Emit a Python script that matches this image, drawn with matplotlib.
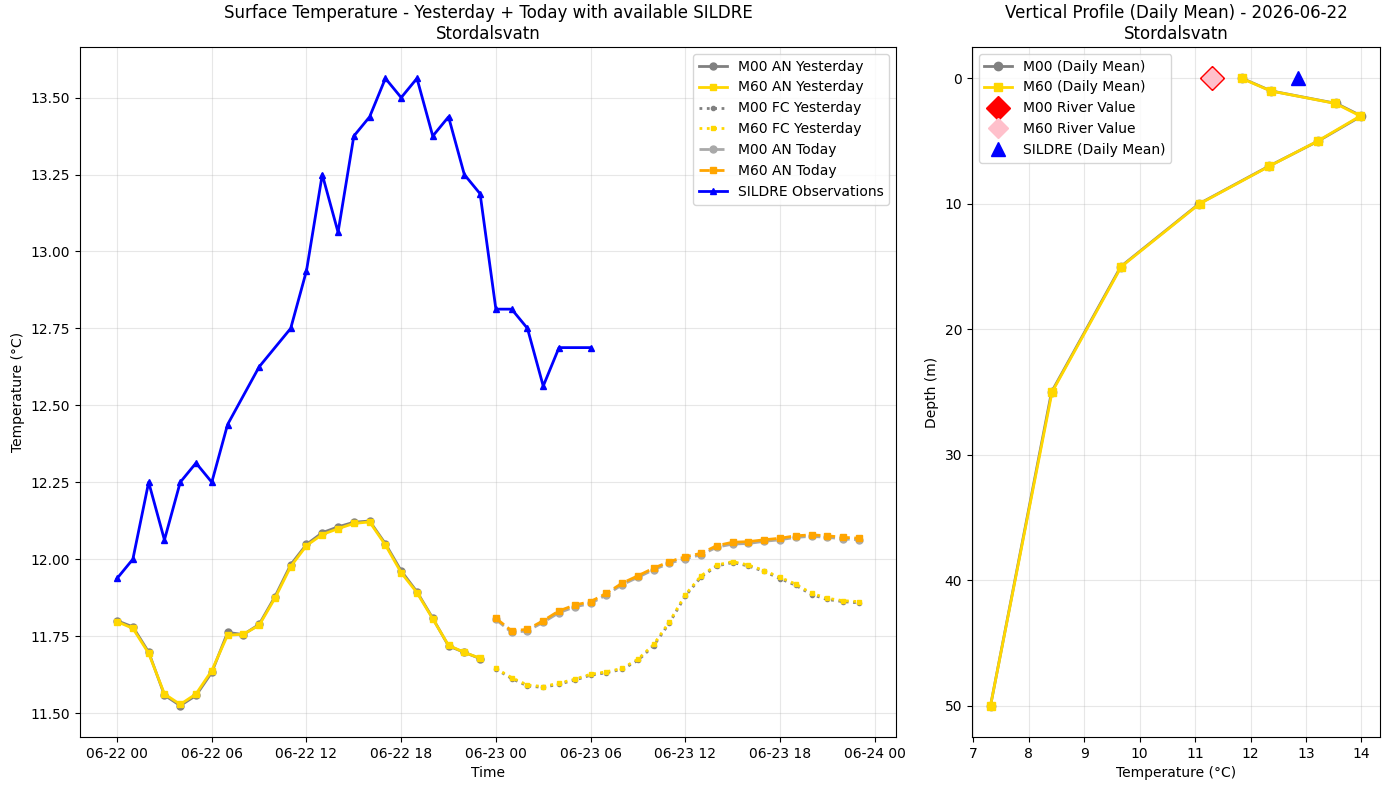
import matplotlib
matplotlib.use("Agg")
import matplotlib.pyplot as plt
import matplotlib.dates as mdates
import pandas as pd
import numpy as np

lake = "Stordalsvatn"
day = "2026-06-22"

# hourly surface temperatures
m00_an_yest = [11.800, 11.780, 11.698, 11.558, 11.524, 11.557, 11.632, 11.762, 11.755, 11.788, 11.878, 11.982,
               12.048, 12.086, 12.105, 12.120, 12.124, 12.050, 11.962, 11.894, 11.808, 11.718, 11.697, 11.677]
m60_an_yest = [11.797, 11.775, 11.694, 11.562, 11.528, 11.562, 11.638, 11.753, 11.756, 11.785, 11.873, 11.976,
               12.044, 12.080, 12.099, 12.116, 12.121, 12.046, 11.956, 11.891, 11.806, 11.720, 11.697, 11.678]
m00_fc_yest = [11.643, 11.612, 11.588, 11.583, 11.594, 11.607, 11.623, 11.631, 11.642, 11.671, 11.719, 11.793,
               11.880, 11.942, 11.978, 11.989, 11.978, 11.960, 11.937, 11.915, 11.885, 11.869, 11.862, 11.858]
m60_fc_yest = [11.645, 11.615, 11.591, 11.586, 11.597, 11.610, 11.626, 11.634, 11.645, 11.675, 11.723, 11.797,
               11.884, 11.946, 11.981, 11.992, 11.981, 11.963, 11.941, 11.919, 11.889, 11.873, 11.865, 11.862]
m00_an_today = [11.804, 11.762, 11.767, 11.795, 11.826, 11.845, 11.856, 11.884, 11.917, 11.941, 11.966, 11.987,
                12.002, 12.014, 12.039, 12.049, 12.051, 12.058, 12.063, 12.071, 12.074, 12.071, 12.066, 12.063]
m60_an_today = [11.808, 11.767, 11.772, 11.800, 11.832, 11.851, 11.862, 11.889, 11.922, 11.946, 11.971, 11.992,
                12.008, 12.019, 12.044, 12.055, 12.057, 12.063, 12.068, 12.076, 12.079, 12.076, 12.071, 12.068]

# SILDRE observations (some hours missing)
sildre_times = ["2026-06-22 00:00", "2026-06-22 01:00", "2026-06-22 02:00", "2026-06-22 03:00",
                "2026-06-22 04:00", "2026-06-22 05:00", "2026-06-22 06:00", "2026-06-22 07:00",
                "2026-06-22 09:00", "2026-06-22 11:00", "2026-06-22 12:00", "2026-06-22 13:00",
                "2026-06-22 14:00", "2026-06-22 15:00", "2026-06-22 16:00", "2026-06-22 17:00",
                "2026-06-22 18:00", "2026-06-22 19:00", "2026-06-22 20:00", "2026-06-22 21:00",
                "2026-06-22 22:00", "2026-06-22 23:00", "2026-06-23 00:00", "2026-06-23 01:00",
                "2026-06-23 02:00", "2026-06-23 03:00", "2026-06-23 04:00", "2026-06-23 06:00"]
sildre_vals = [11.9375, 12.0, 12.25, 12.0625, 12.25, 12.3125, 12.25, 12.4375,
               12.625, 12.75, 12.9375, 13.25, 13.0625, 13.375, 13.4375, 13.5625,
               13.5, 13.5625, 13.375, 13.4375, 13.25, 13.1875, 12.8125, 12.8125,
               12.75, 12.5625, 12.6875, 12.6875]

# vertical profile (daily mean)
depths = [0, 1, 2, 3, 5, 7, 10, 15, 25, 50]
m00_profile = [11.85, 12.37, 13.55, 14.00, 13.22, 12.33, 11.07, 9.66, 8.41, 7.31]
m60_profile = [11.84, 12.36, 13.53, 13.98, 13.21, 12.34, 11.08, 9.67, 8.42, 7.31]
m00_river = 11.31
m60_river = 11.31
sildre_mean = 12.86

t_yest = pd.date_range("2026-06-22 00:00", periods=24, freq="h")
t_today = pd.date_range("2026-06-23 00:00", periods=24, freq="h")
t_sildre = pd.to_datetime(sildre_times)

fig, (ax1, ax2) = plt.subplots(1, 2, figsize=(13.89, 7.9), gridspec_kw={"width_ratios": [2, 1]})

ax1.plot(t_yest, m00_an_yest, color="gray", marker="o", markersize=5, linewidth=2, label="M00 AN Yesterday")
ax1.plot(t_yest, m60_an_yest, color="gold", marker="s", markersize=5, linewidth=2, label="M60 AN Yesterday")
ax1.plot(t_today, m00_fc_yest, color="gray", marker="o", markersize=3, linewidth=2, linestyle=":", label="M00 FC Yesterday")
ax1.plot(t_today, m60_fc_yest, color="gold", marker="s", markersize=3, linewidth=2, linestyle=":", label="M60 FC Yesterday")
ax1.plot(t_today, m00_an_today, color="darkgray", marker="o", markersize=5, linewidth=2, linestyle="--", label="M00 AN Today")
ax1.plot(t_today, m60_an_today, color="orange", marker="s", markersize=5, linewidth=2, linestyle="--", label="M60 AN Today")
ax1.plot(t_sildre, sildre_vals, color="blue", marker="^", markersize=5, linewidth=2, label="SILDRE Observations")

ax1.set_title("Surface Temperature - Yesterday + Today with available SILDRE\n" + lake)
ax1.set_xlabel("Time")
ax1.set_ylabel("Temperature (°C)")
ax1.xaxis.set_major_locator(mdates.HourLocator(byhour=[0, 6, 12, 18]))
ax1.xaxis.set_major_formatter(mdates.DateFormatter("%m-%d %H"))
ax1.grid(True, alpha=0.3)
ax1.legend(loc="upper right")

ax2.plot(m00_profile, depths, color="gray", marker="o", markersize=6, linewidth=2, label="M00 (Daily Mean)")
ax2.plot(m60_profile, depths, color="gold", marker="s", markersize=6, linewidth=2, label="M60 (Daily Mean)")
ax2.plot([m00_river], [0], color="red", marker="D", markersize=12.5, linestyle="", label="M00 River Value")
ax2.plot([m60_river], [0], color="pink", marker="D", markersize=10.5, linestyle="", label="M60 River Value")
ax2.plot([sildre_mean], [0], color="blue", marker="^", markersize=10, linestyle="", label="SILDRE (Daily Mean)")
ax2.invert_yaxis()
ax2.set_title("Vertical Profile (Daily Mean) - " + day + "\n" + lake)
ax2.set_xlabel("Temperature (°C)")
ax2.set_ylabel("Depth (m)")
ax2.grid(True, alpha=0.3)
ax2.legend(loc="upper left")

fig.subplots_adjust(left=0.0576, right=0.9935, top=0.9405, bottom=0.0671, wspace=0.1242)
plt.savefig("out.png", dpi=100)
